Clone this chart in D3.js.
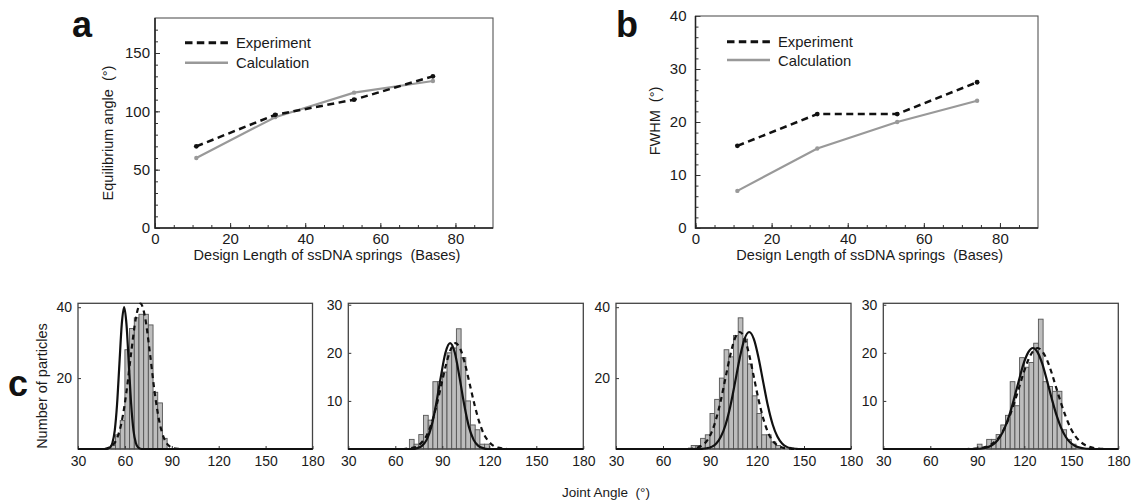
<!DOCTYPE html>
<html><head><meta charset="utf-8">
<script src="https://cdn.jsdelivr.net/npm/d3@7"></script>
<style>
body{margin:0;background:#fff;}
svg text{font-family:"Liberation Sans",Arial,sans-serif;}
</style></head><body>
<svg id="chart" width="1133" height="501"></svg>
<script>
// ---------------- data ----------------
const springLengths = [11, 32, 53, 74];
const eqAngleExp = [70, 97, 110, 130];
const eqAngleCalc = [60, 95, 116, 126];
const fwhmExp = [15.5, 21.5, 21.5, 27.5];
const fwhmCalc = [7, 15, 20, 24];
const lengthTicks = [0, 20, 40, 60, 80];
const eqAngleTicks = [0, 50, 100, 150];
const fwhmTicks = [0, 10, 20, 30, 40];
const jointTicks = [30, 60, 90, 120, 150, 180];
const legendLabels = ["Experiment", "Calculation"];

const binWidth = 3;
// histogram bin starts (deg) and counts
const hist1Start = [51, 54, 57, 60, 63, 66, 69, 72, 75, 78, 81, 84];
const hist1Count = [1, 4, 8, 28, 34, 37, 38, 38, 35, 16, 13, 3];
const hist2Start = [69, 72, 75, 78, 81, 84, 87, 90, 93, 96, 99, 102, 105, 108, 111, 114, 117];
const hist2Count = [2, 1, 3, 7, 6, 14, 14, 16, 20, 21, 25, 19, 10, 5, 4, 1, 1];
const hist3Start = [78, 81, 84, 87, 90, 93, 96, 99, 102, 105, 108, 111, 114, 117, 120, 123, 126, 129, 132];
const hist3Count = [1, 1, 3, 4, 10, 14, 20, 28, 26, 32, 37, 31, 24, 15, 10, 4, 4, 2, 1];
const hist4Start = [90, 93, 96, 99, 102, 105, 108, 111, 114, 117, 120, 123, 126, 129, 132, 135, 138, 141, 144, 147, 150];
const hist4Count = [1, 0, 2, 2, 3, 5, 7, 14, 9, 19, 17, 18, 22, 27, 14, 13, 12, 12, 4, 2, 1];

// fitted curves: [angle, count]
const curve1Calc = [[30,0],[47.5,0],[49,0.08],[50.5,0.4],[52,1.7],[53.5,5.2],[55,12.7],[56.5,24.1],[58,35.2],[59.5,40],[61,35.2],[62.5,24.1],[64,12.7],[65.5,5.2],[67,1.7],[68.5,0.4],[70,0.08],[71.5,0],[180,0]];
const curve1Exp = [[30,0],[46,0],[49,0.25],[52,0.97],[55,3.05],[58,7.8],[61,16.1],[64,27.1],[67,36.9],[70,41],[73,36.9],[76,27.1],[79,16.1],[82,7.8],[85,3.05],[88,0.97],[91,0.25],[94,0.05],[97,0],[180,0]];
const curve2Calc = [[30,0],[71,0],[74,0.19],[77,0.66],[80,1.9],[83,4.6],[86,9.2],[89,14.9],[92,20],[95,22],[98,20],[101,14.9],[104,9.2],[107,4.6],[110,1.9],[113,0.66],[116,0.19],[119,0],[180,0]];
const curve2Exp = [[30,0],[65.5,0],[68.5,0.1],[71.5,0.28],[74.5,0.7],[77.5,1.6],[80.5,3.1],[83.5,5.7],[86.5,9.3],[89.5,13.5],[92.5,17.7],[95.5,20.8],[98.5,22],[101.5,20.8],[104.5,17.7],[107.5,13.5],[110.5,9.3],[113.5,5.7],[116.5,3.1],[119.5,1.6],[122.5,0.7],[125.5,0.28],[128.5,0.1],[131.5,0],[180,0]];
const curve3Calc = [[30,0],[82,0],[85,0.06],[88,0.21],[91,0.6],[94,1.55],[97,3.5],[100,6.9],[103,12.1],[106,18.8],[109,25.7],[112,31],[115,33],[118,31],[121,25.7],[124,18.8],[127,12.1],[130,6.9],[133,3.5],[136,1.55],[139,0.6],[142,0.21],[145,0.06],[148,0],[180,0]];
const curve3Exp = [[30,0],[73,0],[76,0.05],[79,0.15],[82,0.42],[85,1.04],[88,2.3],[91,4.7],[94,8.6],[97,13.9],[100,20.3],[103,26.6],[106,31.3],[109,33],[112,31.3],[115,26.6],[118,20.3],[121,13.9],[124,8.6],[127,4.7],[130,2.3],[133,1.04],[136,0.42],[139,0.15],[142,0.05],[145,0],[180,0]];
const curve4Calc = [[30,0],[86.5,0],[89.5,0.04],[92.5,0.11],[95.5,0.28],[98.5,0.63],[101.5,1.3],[104.5,2.5],[107.5,4.4],[110.5,7.1],[113.5,10.5],[116.5,14.2],[119.5,17.7],[122.5,20.1],[125.5,21],[128.5,20.1],[131.5,17.7],[134.5,14.2],[137.5,10.5],[140.5,7.1],[143.5,4.4],[146.5,2.5],[149.5,1.3],[152.5,0.63],[155.5,0.28],[158.5,0.11],[161.5,0.04],[164.5,0],[180,0]];
const curve4Exp = [[30,0],[83.5,0],[86.5,0.04],[89.5,0.1],[92.5,0.21],[95.5,0.45],[98.5,0.87],[101.5,1.6],[104.5,2.7],[107.5,4.4],[110.5,6.7],[113.5,9.5],[116.5,12.6],[119.5,15.8],[122.5,18.5],[125.5,20.3],[128.5,21],[131.5,20.3],[134.5,18.5],[137.5,15.8],[140.5,12.6],[143.5,9.5],[146.5,6.7],[149.5,4.4],[152.5,2.7],[155.5,1.6],[158.5,0.87],[161.5,0.45],[164.5,0.21],[167.5,0.1],[170.5,0.04],[173.5,0],[180,0]];

// ---------------- drawing ----------------
const svg = d3.select("#chart");
const FONT = '"Liberation Sans", Arial, sans-serif';
const TXT = "#1a1a1a";

function styleAxis(g, size) {
  g.select(".domain").remove();
  g.attr("font-size", size).attr("font-family", FONT).style("color", TXT);
  g.selectAll(".tick line").attr("stroke", "#333").attr("stroke-width", 1);
}

function linePanel(c) {
  const x = d3.scaleLinear([0, 90], [c.x0, c.x1]);
  const y = d3.scaleLinear(c.yDomain, [c.y1, c.y0]);
  const g = svg.append("g");
  // minor ticks
  const gxm = g.append("g").attr("transform", `translate(0,${c.y1})`)
    .call(d3.axisBottom(x).tickValues(d3.range(0, 90, 5)).tickSize(-3).tickFormat(""));
  styleAxis(gxm, 10);
  const gym = g.append("g").attr("transform", `translate(${c.x0},0)`)
    .call(d3.axisLeft(y).tickValues(d3.range(c.yDomain[0], c.yDomain[1], c.yMinor)).tickSize(-3).tickFormat(""));
  styleAxis(gym, 10);
  // major
  const gx = g.append("g").attr("transform", `translate(0,${c.y1})`)
    .call(d3.axisBottom(x).tickValues(lengthTicks).tickSize(-5).tickPadding(5));
  styleAxis(gx, 15);
  const gy = g.append("g").attr("transform", `translate(${c.x0},0)`)
    .call(d3.axisLeft(y).tickValues(c.yTicks).tickSize(-5).tickPadding(c.yPad));
  styleAxis(gy, 15);
  // frame
  g.append("rect").attr("x", c.x0).attr("y", c.y0).attr("width", c.x1 - c.x0).attr("height", c.y1 - c.y0)
    .attr("fill", "none").attr("stroke", "#555").attr("stroke-width", 1.1);
  g.append("path").attr("d", `M${c.x0},${c.y0}V${c.y1}H${c.x1}`).attr("fill", "none").attr("stroke", "#222").attr("stroke-width", 1.5);

  const line = d3.line().x(d => x(d[0])).y(d => y(d[1]));
  const calcPts = springLengths.map((v, i) => [v, c.calc[i]]);
  const expPts = springLengths.map((v, i) => [v, c.exp[i]]);
  g.append("path").attr("d", line(calcPts)).attr("fill", "none").attr("stroke", "#999").attr("stroke-width", 2.2);
  g.selectAll(".dc").data(calcPts).join("circle").attr("cx", d => x(d[0])).attr("cy", d => y(d[1])).attr("r", 2.2).attr("fill", "#999");
  g.append("path").attr("d", line(expPts)).attr("fill", "none").attr("stroke", "#111").attr("stroke-width", 2.5).attr("stroke-dasharray", "7,4.5");
  g.selectAll(".de").data(expPts).join("circle").attr("cx", d => x(d[0])).attr("cy", d => y(d[1])).attr("r", 2.4).attr("fill", "#111");

  // legend
  const L = c.legend;
  g.append("line").attr("x1", L.x).attr("x2", L.x + 43).attr("y1", L.y).attr("y2", L.y)
    .attr("stroke", "#111").attr("stroke-width", 3).attr("stroke-dasharray", "7.5,4.3");
  g.append("line").attr("x1", L.x).attr("x2", L.x + 43).attr("y1", L.y + L.dy).attr("y2", L.y + L.dy)
    .attr("stroke", "#999").attr("stroke-width", 2.4);
  legendLabels.forEach((t, i) => {
    g.append("text").attr("x", L.x + 51).attr("y", L.y + i * L.dy + 5.5).attr("font-size", 14.8).attr("fill", TXT).text(t);
  });
  // titles
  g.append("text").attr("transform", `translate(${c.ylab[0]},${c.ylab[1]}) rotate(-90)`).attr("text-anchor", "middle")
    .attr("font-size", 14.5).attr("fill", TXT).style("white-space", "pre").text(c.ylabel);
  g.append("text").attr("x", (c.x0 + c.x1) / 2 + 3).attr("y", 260).attr("text-anchor", "middle")
    .attr("font-size", 14.5).attr("fill", TXT).style("white-space", "pre").text("Design Length of ssDNA springs  (Bases)");
  g.append("text").attr("x", c.letter[0]).attr("y", c.letter[1]).attr("font-size", 36).attr("font-weight", "bold").attr("fill", "#111").text(c.letterText);
}

linePanel({x0: 155, x1: 493, y0: 18, y1: 228, yDomain: [0, 180], yTicks: eqAngleTicks, yMinor: 10, yPad: 5,
  exp: eqAngleExp, calc: eqAngleCalc, legend: {x: 185, y: 42.7, dy: 20},
  ylabel: "Equilibrium angle  (°)", ylab: [113, 133], letter: [72, 37], letterText: "a"});
linePanel({x0: 695.5, x1: 1038, y0: 16, y1: 228, yDomain: [0, 40], yTicks: fwhmTicks, yMinor: 2, yPad: 9,
  exp: fwhmExp, calc: fwhmCalc, legend: {x: 727, y: 41.7, dy: 18.3},
  ylabel: "FWHM  (°)", ylab: [660, 121], letter: [616, 37], letterText: "b"});

function histPanel(c) {
  const x = d3.scaleLinear([30, 180], [c.x0, c.x1]);
  const y = d3.scaleLinear(c.yDomain, [449, 303.3]);
  const g = svg.append("g");
  const bins = c.start.map((s, i) => ({s, n: c.count[i]})).filter(d => d.n > 0);
  g.selectAll("rect.bar").data(bins).join("rect").attr("class", "bar")
    .attr("x", d => x(d.s)).attr("width", d => x(d.s + binWidth) - x(d.s))
    .attr("y", d => y(d.n)).attr("height", d => y(0) - y(d.n))
    .attr("fill", "#bdbdbd").attr("stroke", "#555").attr("stroke-width", 0.9);
  const gx = g.append("g").attr("transform", "translate(0,449)")
    .call(d3.axisBottom(x).tickValues(jointTicks).tickSize(-3).tickPadding(7.5));
  styleAxis(gx, 14);
  const gy = g.append("g").attr("transform", `translate(${c.x0},0)`)
    .call(d3.axisLeft(y).tickValues(c.yTicks).tickSize(-3).tickPadding(6));
  styleAxis(gy, 14);
  g.append("rect").attr("x", c.x0).attr("y", 303.3).attr("width", c.x1 - c.x0).attr("height", 449 - 303.3)
    .attr("fill", "none").attr("stroke", "#444").attr("stroke-width", 1.3);
  const line = d3.line().x(d => x(d[0])).y(d => y(d[1])).curve(d3.curveMonotoneX);
  g.append("path").attr("d", line(c.exp)).attr("fill", "none").attr("stroke", "#111").attr("stroke-width", 2.2).attr("stroke-dasharray", "5,4");
  g.append("path").attr("d", line(c.calc)).attr("fill", "none").attr("stroke", "#111").attr("stroke-width", 2.2);
}

histPanel({x0: 78, x1: 312.5, yDomain: [0, 41.1], yTicks: [20, 40], start: hist1Start, count: hist1Count, exp: curve1Exp, calc: curve1Calc});
histPanel({x0: 348.3, x1: 583.3, yDomain: [0, 30.3], yTicks: [10, 20, 30], start: hist2Start, count: hist2Count, exp: curve2Exp, calc: curve2Calc});
histPanel({x0: 616, x1: 851, yDomain: [0, 41.1], yTicks: [20, 40], start: hist3Start, count: hist3Count, exp: curve3Exp, calc: curve3Calc});
histPanel({x0: 883.3, x1: 1118.3, yDomain: [0, 30.3], yTicks: [10, 20, 30], start: hist4Start, count: hist4Count, exp: curve4Exp, calc: curve4Calc});

svg.append("text").attr("transform", "translate(46.5,386) rotate(-90)").attr("text-anchor", "middle")
  .attr("font-size", 14.5).attr("fill", TXT).text("Number of particles");
svg.append("text").attr("x", 606).attr("y", 497).attr("text-anchor", "middle")
  .attr("font-size", 13.5).attr("fill", TXT).style("white-space", "pre").text("Joint Angle  (°)");
svg.append("text").attr("x", 8).attr("y", 396).attr("font-size", 36).attr("font-weight", "bold").attr("fill", "#111").text("c");
</script>
</body></html>
